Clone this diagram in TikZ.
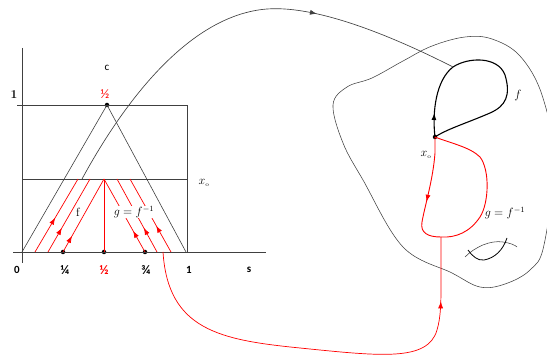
\documentclass[tikz,border=0pt]{standalone}
\usepackage{fontspec}
\newfontfamily\carlito{Carlito}
\usetikzlibrary{arrows.meta,decorations.markings}
\begin{document}
\begin{tikzpicture}[x=1pt,y=-1pt,
  axisline/.style={draw=black!75, line width=0.6pt},
  redline/.style={draw=red, line width=0.7pt},
  loopline/.style={draw=black, line width=1.1pt},
  dotnode/.style={circle, fill=black, inner sep=0pt, minimum size=4.5pt},
  lbl/.style={font=\carlito\fontsize{11}{12}\selectfont, inner sep=0pt},
  blbl/.style={font=\carlito\bfseries\fontsize{11}{12}\selectfont, inner sep=0pt},
  flbl/.style={font=\carlito\bfseries\fontsize{13}{14}\selectfont, inner sep=0pt},
  mlbl/.style={font=\fontsize{12}{14}\selectfont, inner sep=0pt},
  marrow/.style={postaction={decorate}, decoration={markings,
     mark=at position #1 with {\arrow{Latex[length=7pt,width=5pt]}}}}
]
\useasboundingbox (0,0) rectangle (547,358);
% ---- left diagram coordinates
\coordinate (Xs) at (13,252);
\coordinate (Xe) at (266,252);
\coordinate (Yt) at (22,48);
\coordinate (Yb) at (22,263);
\coordinate (TL) at (17,105);
\coordinate (TR) at (187,105);
\coordinate (ML) at (22,179);
\coordinate (MR) at (187,179);
\coordinate (BR) at (187,252);
\coordinate (TriL) at (22,252);
\coordinate (TriR) at (186,252);
\coordinate (Mid) at (104,179);
\node[dotnode] (apex) at (107,105) {};
\node[dotnode] (q1) at (63,252) {};
\node[dotnode] (q2) at (104,252) {};
\node[dotnode] (q3) at (145,252) {};
% axes and frame
\draw[axisline] (Xs) -- (Xe);
\draw[axisline] (Yt) -- (Yb);
\draw[axisline] (TL) -- (TR) -- (BR);
\draw[axisline] (ML) -- (MR);
\draw[axisline] (TriL) -- (apex.center) -- (TriR);
% red lines, left group
\coordinate (l1b) at (35,252);  \coordinate (l1t) at (78,179);
\coordinate (l2b) at (48,252);  \coordinate (l2t) at (90,179);
\coordinate (l3t) at (Mid);
\draw[redline, marrow=0.47] (l1b) -- (l1t);
\draw[redline, marrow=0.33] (l2b) -- (l2t);
\draw[redline, marrow=0.22] (q1.center) -- (l3t);
% red lines, right group
\coordinate (r2b) at (157,252); \coordinate (r2t) at (117,179);
\coordinate (r3b) at (171,252); \coordinate (r3t) at (130,179);
\draw[redline, marrow=0.29] (q3.center) -- (Mid);
\draw[redline, marrow=0.33] (r2b) -- (r2t);
\draw[redline, marrow=0.36] (r3b) -- (r3t);
\draw[redline] (q2.center) -- (Mid);
% labels left
\node[font=\bfseries\fontsize{12}{13}\selectfont, inner sep=0pt] (one) at (14,95) {1};
\node[lbl] (c) at (107,68) {c};
\node[flbl, text=red, font=\carlito\fontsize{13}{14}\selectfont] (half) at (105,94) {½};
\node[blbl] (zero) at (17,270) {0};
\node[flbl] (quarter) at (65,270) {¼};
\node[flbl, text=red] (halfb) at (104,270) {½};
\node[flbl] (tq) at (146,270) {¾};
\node[blbl] (oneb) at (189,270) {1};
\node[blbl] (s) at (249,270) {s};
\node[mlbl] (xo) at (204,183) {$x_{\scriptscriptstyle\mathrm{o}}$};
\node[mlbl] (fl) at (78,212) {f};
\node[font=\fontsize{12}{14}\selectfont, fill=white, inner sep=0.5pt] (gl) at (134,212) {$g=f^{-1}$};
% ---- right region
\draw[axisline, line width=0.55pt] plot[smooth cycle, tension=0.6] coordinates {
 (333,105) (347,87) (372,78) (403,61) (432,46) (465,37) (492,39) (520,56)
 (542,95) (554,160) (544,245) (530,270) (505,284) (480,287) (452,273)
 (403,247) (363,180) (343,143)};
\node[dotnode] (x0) at (435,137) {};
\coordinate (ftop) at (453,67);
% f loop
\draw[loopline, marrow=0.1] (x0.center) .. controls (432,112) and (436,80) .. (ftop)
  .. controls (468,57) and (498,56) .. (505,75)
  .. controls (511,95) and (506,106) .. (490,113)
  .. controls (467,123) and (447,129) .. (x0.center);
% big black connector
\coordinate (bstart) at (82,179);
\coordinate (bpeak) at (267,9);
\draw[axisline, line width=0.65pt, marrow=0.68] (bstart) .. controls (125,100) and (190,15) .. (bpeak)
  .. controls (320,5) and (400,40) .. (ftop);
% g loop
\coordinate (gbot) at (441,237);
\draw[redline, line width=0.9pt, marrow=0.24] (x0.center) -- (435,153)
  .. controls (433,180) and (425,205) .. (422,222)
  .. controls (420,233) and (428,237) .. (gbot)
  .. controls (456,238) and (470,232) .. (480,217)
  .. controls (489,203) and (490,170) .. (480,157)
  .. controls (470,147) and (450,143) .. (x0.center);
% long red connector
\coordinate (rstart) at (163,252);
\draw[redline, marrow=0.85] (rstart) .. controls (168,330) and (220,340) .. (300,348)
  .. controls (380,356) and (428,362) .. (437,330)
  .. controls (441,317) and (441,300) .. (441,285) -- (gbot);
% labels right
\node[mlbl] (fr) at (518,96) {$f$};
\node[mlbl] (xor) at (426,155) {$x_{\scriptscriptstyle\mathrm{o}}$};
\node[font=\fontsize{12}{14}\selectfont, inner sep=0pt] (gr) at (505,213) {$g=f^{-1}$};
% small symbol
\draw[axisline, line width=0.55pt] (465,257) .. controls (475,247) and (490,240) .. (503,242) .. controls (510,243) and (515,245) .. (517,247);
\draw[black, line width=0.8pt] (468,250) .. controls (472,256) and (478,261) .. (484,260) .. controls (495,258) and (503,250) .. (507,238);
\end{tikzpicture}
\end{document}
